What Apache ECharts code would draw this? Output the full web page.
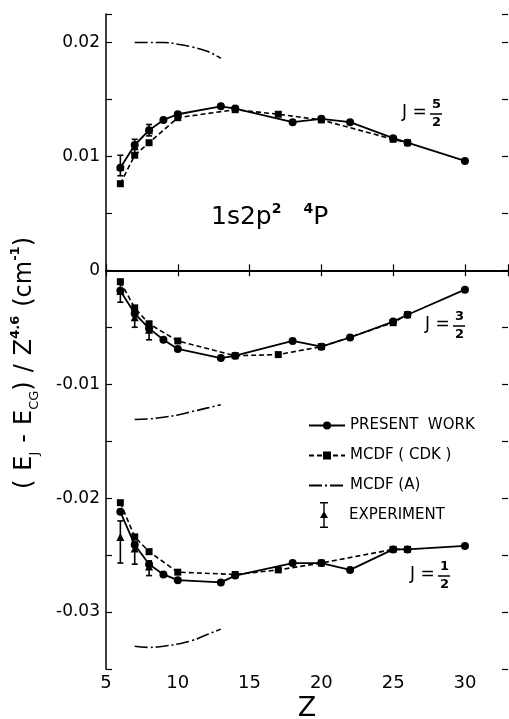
<!DOCTYPE html>
<html>
<head>
<meta charset="utf-8">
<script src="https://cdn.jsdelivr.net/npm/echarts@6/dist/echarts.min.js"></script>
<style>
html, body { margin: 0; padding: 0; background: #fff; }
#main { width: 509px; height: 719px; }
</style>
</head>
<body>
<div id="main"></div>
<script>
// Z values for each data set
var zPresent = [6, 7, 8, 9, 10, 13, 14, 18, 20, 22, 25, 26, 30];
var zCdk = [6, 7, 8, 10, 14, 17, 20, 25, 26];
var zA = [7, 8, 9, 10, 11, 12, 13];
var zExp = [6, 7, 8];

// present work
var present52 = [0.0090, 0.0110, 0.0123, 0.0132, 0.0137, 0.0144, 0.0142, 0.0130, 0.0133, 0.0130, 0.0116, 0.0112, 0.0096];
var present32 = [-0.0018, -0.0038, -0.0051, -0.0061, -0.0069, -0.0077, -0.0075, -0.0062, -0.0067, -0.0059, -0.0045, -0.0039, -0.0017];
var present12 = [-0.0212, -0.0241, -0.0258, -0.0267, -0.0272, -0.0274, -0.0268, -0.0257, -0.0257, -0.0263, -0.0245, -0.0245, -0.0242];

// MCDF (CDK)
var cdk52 = [0.0076, 0.0101, 0.0112, 0.0134, 0.0141, 0.0137, 0.0132, 0.0115, 0.0112];
var cdk32 = [-0.0010, -0.0033, -0.0047, -0.0062, -0.0075, -0.0074, -0.0067, -0.0046, -0.0039];
var cdk12 = [-0.0204, -0.0234, -0.0247, -0.0265, -0.0267, -0.0263, -0.0257, -0.0245, -0.0245];

// MCDF (A)
var a52 = [0.0200, 0.0200, 0.0200, 0.01985, 0.0196, 0.01925, 0.0186];
var a32 = [-0.0131, -0.01305, -0.0129, -0.0127, -0.0124, -0.0121, -0.0118];
var a12 = [-0.0330, -0.0331, -0.0330, -0.0328, -0.0325, -0.0320, -0.0315];

// experiment: value, low, high
var exp52 = [0.0090, 0.0108, 0.0122];
var exp52Lo = [0.0083, 0.0102, 0.0118];
var exp52Hi = [0.0101, 0.0115, 0.0128];
var exp32 = [-0.0019, -0.0042, -0.0053];
var exp32Lo = [-0.0028, -0.0050, -0.0061];
var exp32Hi = [-0.0010, -0.0035, -0.0045];
var exp12 = [-0.0235, -0.0245, -0.0261];
var exp12Lo = [-0.0257, -0.0258, -0.0268];
var exp12Hi = [-0.0220, -0.0238, -0.0255];

var FONT = 'DejaVu Sans';

function pairs(zs, vs) {
    return zs.map(function (z, i) { return [z, vs[i]]; });
}

function presentSeries(vals) {
    return {
        name: 'PRESENT WORK', type: 'line', data: pairs(zPresent, vals),
        symbol: 'circle', symbolSize: 8, z: 4,
        itemStyle: { color: '#000' },
        lineStyle: { color: '#000', width: 1.8 }
    };
}
function cdkSeries(vals) {
    return {
        name: 'MCDF ( CDK )', type: 'line', data: pairs(zCdk, vals),
        symbol: 'rect', symbolSize: 7, z: 3,
        itemStyle: { color: '#000' },
        lineStyle: { color: '#000', width: 1.6, type: [5, 3] }
    };
}
function aSeries(vals) {
    return {
        name: 'MCDF (A)', type: 'line', data: pairs(zA, vals),
        symbol: 'none', smooth: true, z: 3,
        itemStyle: { color: '#000' },
        lineStyle: { color: '#000', width: 1.6, type: [13, 3, 2, 3] }
    };
}
function expSeries(vals, lo, hi) {
    var d = zExp.map(function (z, i) { return [z, vals[i], lo[i], hi[i]]; });
    return {
        name: 'EXPERIMENT', type: 'custom', z: 5,
        itemStyle: { color: '#000' },
        data: d,
        encode: { x: 0, y: [1, 2, 3] },
        renderItem: function (params, api) {
            var c = api.coord([api.value(0), api.value(1)]);
            var l = api.coord([api.value(0), api.value(2)]);
            var h = api.coord([api.value(0), api.value(3)]);
            var st = { stroke: '#000', lineWidth: 1.6 };
            return {
                type: 'group',
                children: [
                    { type: 'line', shape: { x1: l[0], y1: l[1], x2: h[0], y2: h[1] }, style: st },
                    { type: 'line', shape: { x1: l[0] - 3, y1: l[1], x2: l[0] + 3, y2: l[1] }, style: st },
                    { type: 'line', shape: { x1: h[0] - 3, y1: h[1], x2: h[0] + 3, y2: h[1] }, style: st },
                    { type: 'polygon', shape: { points: [[c[0], c[1] - 5], [c[0] + 4, c[1] + 3], [c[0] - 4, c[1] + 3]] }, style: { fill: '#000' } }
                ]
            };
        }
    };
}

// "J = n/d" label, x is the fraction centre
function fraction(x, y, num, den) {
    return [
        { type: 'text', left: x - 34, top: y - 10, style: { text: 'J =', font: '17px ' + FONT, fill: '#000' } },
        { type: 'text', left: x - 4, top: y - 16, style: { text: num, font: 'bold 13px ' + FONT, fill: '#000' } },
        { type: 'line', shape: { x1: x - 6, y1: y, x2: x + 6, y2: y }, style: { stroke: '#000', lineWidth: 1.5 } },
        { type: 'text', left: x - 4, top: y + 2, style: { text: den, font: 'bold 13px ' + FONT, fill: '#000' } }
    ];
}

var myChart = echarts.init(document.getElementById('main'));

var option = {
    animation: false,
    backgroundColor: '#fff',
    grid: { left: 106, right: 1, top: 14, bottom: 50, outerBoundsMode: 'none' },
    xAxis: [{
        type: 'value', min: 5, max: 33, interval: 5,
        name: 'Z', nameLocation: 'middle', nameGap: 26, nameMoveOverlap: false,
        nameTextStyle: { fontFamily: FONT, fontSize: 27, color: '#000' },
        axisLine: { lineStyle: { color: '#000', width: 1.5 } },
        axisTick: { inside: true, length: 6, lineStyle: { color: '#000', width: 1.2 } },
        axisLabel: {
            fontFamily: FONT, fontSize: 18, color: '#000', margin: 5,
            formatter: function (v) { return (v % 5 === 0 && v <= 30) ? String(v) : ''; }
        },
        splitLine: { show: false }
    }, {
        type: 'value', min: 5, max: 33, interval: 5, position: 'top',
        axisLine: { lineStyle: { color: '#000', width: 1.5 } },
        axisTick: { inside: true, length: 6, lineStyle: { color: '#000', width: 1.2 } },
        axisLabel: { show: false },
        splitLine: { show: false }
    }],
    yAxis: [{
        type: 'value', min: -0.035, max: 0.0225, interval: 0.005,
        axisLine: { lineStyle: { color: '#000', width: 1.5 } },
        axisTick: { inside: true, length: 6, lineStyle: { color: '#000', width: 1.2 } },
        axisLabel: {
            fontFamily: FONT, fontSize: 17, color: '#000', margin: 6,
            formatter: function (v) {
                var k = Math.round(v * 1000);
                if (k % 10 !== 0) return '';
                if (k === 0) return '0';
                return (k / 1000).toFixed(2);
            }
        },
        splitLine: { show: false }
    }, {
        type: 'value', min: -0.035, max: 0.0225, interval: 0.005, position: 'right',
        axisLine: { show: false },
        axisTick: { inside: true, length: 6, lineStyle: { color: '#000', width: 1.2 } },
        axisLabel: { show: false },
        splitLine: { show: false }
    }],
    legend: [{
        orient: 'vertical', left: 308, top: 418, padding: 0,
        itemWidth: 36, itemHeight: 10, itemGap: 15,
        textStyle: { fontFamily: FONT, fontSize: 15, color: '#000' },
        formatter: function (name) { return name === 'PRESENT WORK' ? 'PRESENT  WORK' : name; },
        data: ['PRESENT WORK', 'MCDF ( CDK )', { name: 'MCDF (A)', itemStyle: { opacity: 0 } }],
        selectedMode: false
    }, {
        orient: 'vertical', left: 320, top: 502, padding: 0,
        itemWidth: 10, itemHeight: 26,
        textStyle: { fontFamily: FONT, fontSize: 15, color: '#000', padding: [0, 0, 0, 15] },
        data: [{
            name: 'EXPERIMENT',
            icon: 'path://M2,0H10V1.6H2Z M5.3,0H6.7V26H5.3Z M2,24.4H10V26H2Z M6,9L10,16H2Z',
            itemStyle: { color: '#000' }
        }],
        selectedMode: false
    }],
    graphic: [
        {
            type: 'text', x: 25, y: 363, rotation: Math.PI / 2,
            style: {
                text: '{b|(}{g|}{b|E}{s|J}{g|}{b|-}{g|}{b|E}{s|CG}{b|)}{g|}{b|/}{g|}{b|Z}{p|4.6}{g|}{b|(cm}{p|-1}{b|)}',
                align: 'center', verticalAlign: 'middle',
                rich: {
                    b: { fontFamily: FONT, fontSize: 24, color: '#000', lineHeight: 32 },
                    g: { width: 9 },
                    s: { fontFamily: FONT, fontSize: 13, color: '#000', verticalAlign: 'bottom', lineHeight: 32 },
                    p: { fontFamily: FONT, fontSize: 13, color: '#000', fontWeight: 'bold', verticalAlign: 'top', lineHeight: 32 }
                }
            }
        },
        {
            type: 'text', left: 211, top: 202,
            style: {
                text: '{b|1s2p}{p|2}{g|}{p|4}{b|P}',
                rich: {
                    b: { fontFamily: FONT, fontSize: 25, color: '#000', lineHeight: 30 },
                    g: { width: 22 },
                    p: { fontFamily: FONT, fontSize: 14, color: '#000', fontWeight: 'bold', verticalAlign: 'top', lineHeight: 30 }
                }
            }
        }
    ].concat(fraction(436, 114, '5', '2'))
     .concat(fraction(459, 326, '3', '2'))
     .concat(fraction(444, 576, '1', '2')),
    series: [
        presentSeries(present52), presentSeries(present32), presentSeries(present12),
        cdkSeries(cdk52), cdkSeries(cdk32), cdkSeries(cdk12),
        aSeries(a52), aSeries(a32), aSeries(a12),
        expSeries(exp52, exp52Lo, exp52Hi),
        expSeries(exp32, exp32Lo, exp32Hi),
        expSeries(exp12, exp12Lo, exp12Hi),
        {
            type: 'line', data: [], silent: true,
            markLine: {
                symbol: 'none', silent: true, label: { show: false },
                lineStyle: { color: '#000', width: 1.5, type: 'solid' },
                data: [{ yAxis: 0 }]
            }
        }
    ]
};
myChart.setOption(option, true);
window.onresize = myChart.resize;
</script>
</body>
</html>
